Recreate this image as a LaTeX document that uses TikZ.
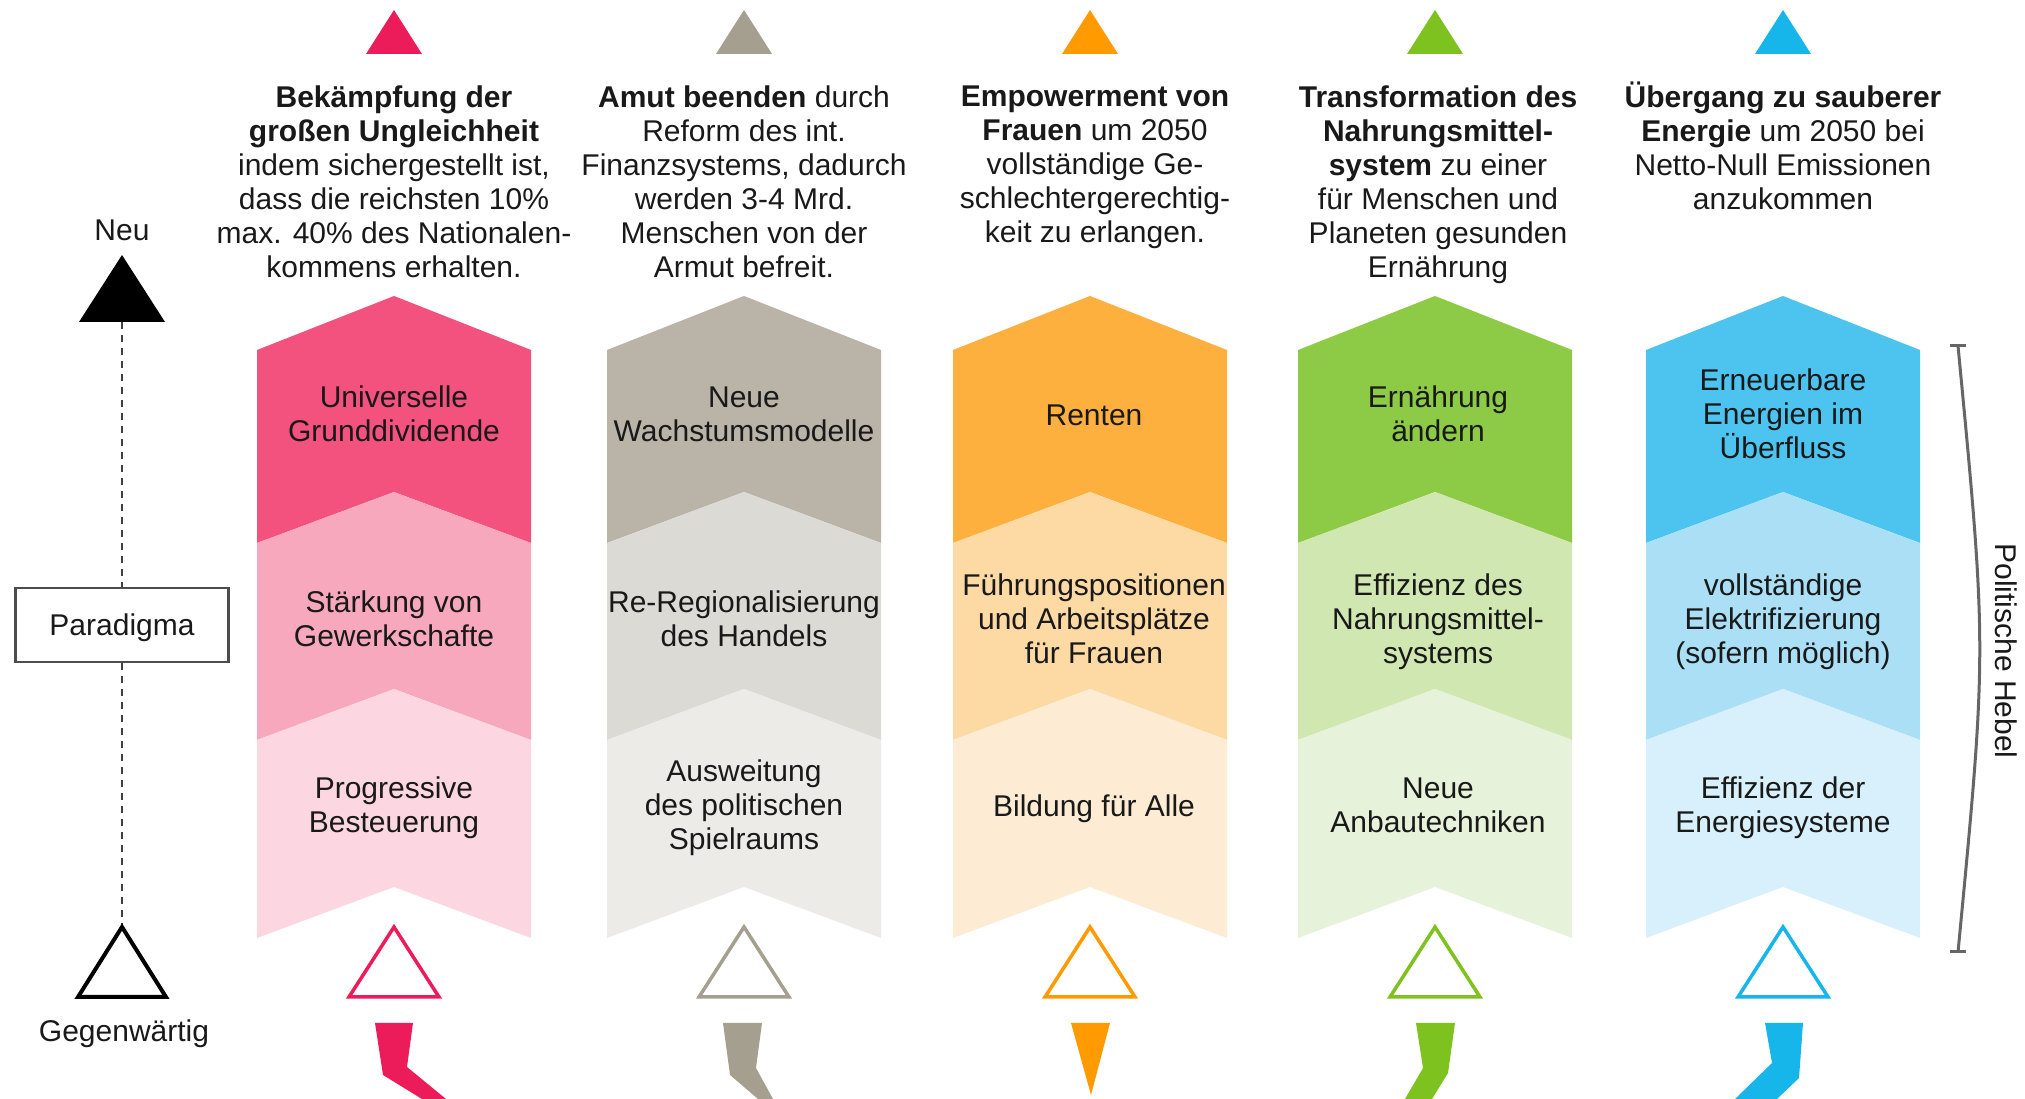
\documentclass[tikz,border=0pt]{standalone}
\usepackage{fontspec}
\setmainfont{Liberation Sans}
\usepackage{tikz}
\usetikzlibrary{calc}

\definecolor{pinkTop}{HTML}{EC1B5A}
\definecolor{pinkB}{HTML}{F2527D}
\definecolor{pinkC}{HTML}{F7A8BC}
\definecolor{pinkD}{HTML}{FCD6E0}
\definecolor{greyTop}{HTML}{A59F8F}
\definecolor{greyB}{HTML}{B9B3A8}
\definecolor{greyC}{HTML}{DCDAD5}
\definecolor{greyD}{HTML}{ECEBE8}
\definecolor{orangeTop}{HTML}{FF9A00}
\definecolor{orangeB}{HTML}{FDB03D}
\definecolor{orangeC}{HTML}{FDD9A3}
\definecolor{orangeD}{HTML}{FEEBD3}
\definecolor{greenTop}{HTML}{7DC21E}
\definecolor{greenB}{HTML}{8DCB47}
\definecolor{greenC}{HTML}{D0E7B2}
\definecolor{greenD}{HTML}{E6F2D9}
\definecolor{blueTop}{HTML}{16B5EA}
\definecolor{blueB}{HTML}{4DC4EF}
\definecolor{blueC}{HTML}{AADFF6}
\definecolor{blueD}{HTML}{D8F0FB}

\tikzset{
  lblbase/.style={font=\fontsize{30}{34}\selectfont, align=center, inner sep=0pt, text=black!90},
  lbl/.style={lblbase, execute at begin node=\strut, execute at end node=\strut},
  hdr/.style={lblbase, anchor=north},
  axisdash/.style={draw=black!75, line width=2.5pt, dash pattern=on 7pt off 6pt},
  hebel/.style={draw=black!60, line width=3pt},
}

\begin{document}
\begin{tikzpicture}[x=1pt,y=1pt]
\useasboundingbox (0,0) rectangle (2025,1099);
% Achse links
\coordinate (neuBase) at (122,777);
\coordinate (jetztTop) at (122,172);
\fill[black] (79,777) -- (122,844) -- (165,777) -- cycle;
\node[lbl] (neu) at (122,865) {Neu};
\node[lblbase, draw=black!70, line width=2.5pt, minimum width=213pt, minimum height=74pt,
  text height=21pt, text depth=0pt] (para) at (122,474) {Paradigma};
\draw[axisdash] (neuBase) -- (para);
\draw[axisdash] (para) -- (jetztTop);
\draw[line width=4pt] (78,102) -- (122,172) -- (166,102) -- cycle;
\node[lbl] (jetzt) at (124,64) {Gegenwärtig};
% Ungleichheit
\fill[pinkTop] (366,1045) -- (394,1089) -- (422,1045) -- cycle;
\node[hdr] (ungleich) at (394,1013.5) {\textbf{Bekämpfung der}\\\textbf{großen Ungleichheit}\\indem sichergestellt ist,\\dass die reichsten 10\%\\max. 40\% des Nationalen-\\kommens erhalten.};
\fill[pinkB] (257,749) -- (394,803) -- (531,749) -- (531,556) -- (394,607) -- (257,556) -- cycle;
\fill[pinkC] (257,556) -- (394,607) -- (531,556) -- (531,359) -- (394,410) -- (257,359) -- cycle;
\fill[pinkD] (257,359) -- (394,410) -- (531,359) -- (531,161) -- (394,212) -- (257,161) -- cycle;
\node[lbl] (grund) at (394,680) {Universelle\\Grunddividende};
\node[lbl] (gewerk) at (394,475) {Stärkung von\\Gewerkschafte};
\node[lbl] (steuer) at (394,289) {Progressive\\Besteuerung};
\draw[pinkTop, line width=3.5pt] (349,102) -- (394,172) -- (439,102) -- cycle;
\fill[pinkTop] (375,76) -- (413,76) -- (407,32) -- (446,0) -- (422,0) -- (383,24) -- cycle;
% Armut
\fill[greyTop] (716,1045) -- (744,1089) -- (772,1045) -- cycle;
\node[hdr] (armut) at (744,1013.5) {\textbf{Amut beenden} durch\\Reform des int.\\Finanzsystems, dadurch\\werden 3-4 Mrd.\\Menschen von der\\Armut befreit.};
\fill[greyB] (607,749) -- (744,803) -- (881,749) -- (881,556) -- (744,607) -- (607,556) -- cycle;
\fill[greyC] (607,556) -- (744,607) -- (881,556) -- (881,359) -- (744,410) -- (607,359) -- cycle;
\fill[greyD] (607,359) -- (744,410) -- (881,359) -- (881,161) -- (744,212) -- (607,161) -- cycle;
\node[lbl] (wachs) at (744,680) {Neue\\Wachstumsmodelle};
\node[lbl] (handel) at (744,475) {Re-Regionalisierung\\des Handels};
\node[lbl] (spiel) at (744,289) {Ausweitung\\des politischen\\Spielraums};
\draw[greyTop, line width=3.5pt] (699,102) -- (744,172) -- (789,102) -- cycle;
\fill[greyTop] (723,76) -- (762,76) -- (756,31) -- (773,0) -- (758,0) -- (730,24) -- cycle;
% Frauen
\fill[orangeTop] (1062,1045) -- (1090,1089) -- (1118,1045) -- cycle;
\node[hdr] (frauen) at (1095,1013.5) {\textbf{Empowerment von}\\\textbf{Frauen} um 2050\\vollständige Ge-\\schlechtergerechtig-\\keit zu erlangen.};
\fill[orangeB] (953,749) -- (1090,803) -- (1227,749) -- (1227,556) -- (1090,607) -- (953,556) -- cycle;
\fill[orangeC] (953,556) -- (1090,607) -- (1227,556) -- (1227,359) -- (1090,410) -- (953,359) -- cycle;
\fill[orangeD] (953,359) -- (1090,410) -- (1227,359) -- (1227,161) -- (1090,212) -- (953,161) -- cycle;
\node[lbl] (renten) at (1094,680) {Renten};
\node[lbl] (fuehr) at (1094,475) {Führungspositionen\\und Arbeitsplätze\\für Frauen};
\node[lbl] (bildung) at (1094,289) {Bildung für Alle};
\draw[orangeTop, line width=3.5pt] (1045,102) -- (1090,172) -- (1135,102) -- cycle;
\fill[orangeTop] (1071,76) -- (1110,76) -- (1091,4) -- cycle;
% Nahrung
\fill[greenTop] (1407,1045) -- (1435,1089) -- (1463,1045) -- cycle;
\node[hdr] (nahrung) at (1438,1013.5) {\textbf{Transformation des}\\\textbf{Nahrungsmittel-}\\\textbf{system} zu einer\\für Menschen und\\Planeten gesunden\\Ernährung};
\fill[greenB] (1298,749) -- (1435,803) -- (1572,749) -- (1572,556) -- (1435,607) -- (1298,556) -- cycle;
\fill[greenC] (1298,556) -- (1435,607) -- (1572,556) -- (1572,359) -- (1435,410) -- (1298,359) -- cycle;
\fill[greenD] (1298,359) -- (1435,410) -- (1572,359) -- (1572,161) -- (1435,212) -- (1298,161) -- cycle;
\node[lbl] (ernaehr) at (1438,680) {Ernährung\\ändern};
\node[lbl] (effN) at (1438,475) {Effizienz des\\Nahrungsmittel-\\systems};
\node[lbl] (anbau) at (1438,289) {Neue\\Anbautechniken};
\draw[greenTop, line width=3.5pt] (1390,102) -- (1435,172) -- (1480,102) -- cycle;
\fill[greenTop] (1416,76) -- (1455,76) -- (1448,26) -- (1432,0) -- (1405,0) -- (1423,31) -- cycle;
% Energie
\fill[blueTop] (1755,1045) -- (1783,1089) -- (1811,1045) -- cycle;
\node[hdr] (energie) at (1783,1017.5) {\textbf{Übergang zu sauberer}\\\textbf{Energie} um 2050 bei\\Netto-Null Emissionen\\anzukommen};
\fill[blueB] (1646,749) -- (1783,803) -- (1920,749) -- (1920,556) -- (1783,607) -- (1646,556) -- cycle;
\fill[blueC] (1646,556) -- (1783,607) -- (1920,556) -- (1920,359) -- (1783,410) -- (1646,359) -- cycle;
\fill[blueD] (1646,359) -- (1783,410) -- (1920,359) -- (1920,161) -- (1783,212) -- (1646,161) -- cycle;
\node[lbl] (erneuer) at (1783,680) {Erneuerbare\\Energien im\\Überfluss};
\node[lbl] (elektr) at (1783,475) {vollständige\\Elektrifizierung\\(sofern möglich)};
\node[lbl] (effE) at (1783,289) {Effizienz der\\Energiesysteme};
\draw[blueTop, line width=3.5pt] (1738,102) -- (1783,172) -- (1828,102) -- cycle;
\fill[blueTop] (1765,76) -- (1803,76) -- (1799,21) -- (1777,0) -- (1735,0) -- (1772,36) -- cycle;
% Klammer rechts
\coordinate (hebTop) at (1958,753);
\coordinate (hebBot) at (1958,147);
\draw[hebel] (hebTop) .. controls (1987,450) .. (hebBot);
\draw[hebel] ($(hebTop)+(-8,0)$) -- ($(hebTop)+(8,0)$);
\draw[hebel] ($(hebBot)+(-8,0)$) -- ($(hebBot)+(8,0)$);
\node[lbl, rotate=-90] (hebelLbl) at (2002,448) {Politische Hebel};
\end{tikzpicture}
\end{document}
